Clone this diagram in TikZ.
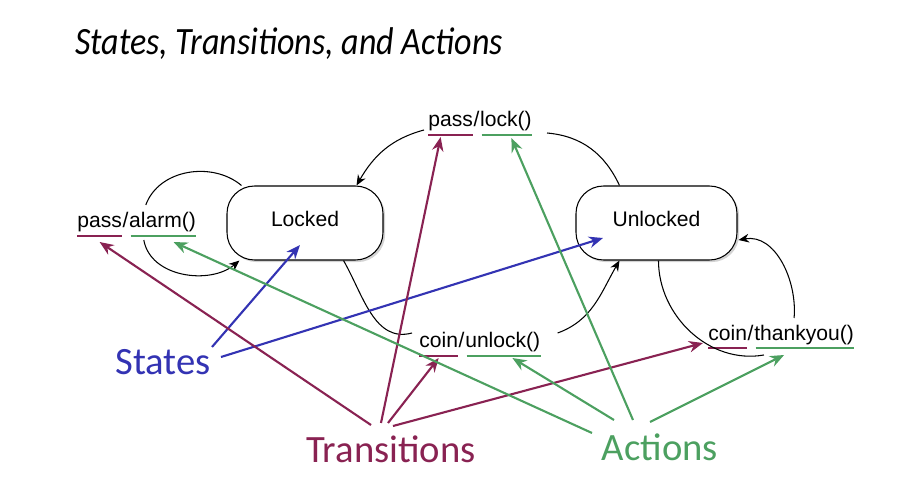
\documentclass[tikz,border=0pt]{standalone}
\usepackage{fontspec}
\setmainfont{Liberation Sans}
\newfontfamily\gillfont{Carlito}
\usetikzlibrary{arrows.meta,positioning,shadows}

\definecolor{stateblue}{RGB}{51,51,179}
\definecolor{transred}{RGB}{137,34,82}
\definecolor{actgreen}{RGB}{76,160,96}

\begin{document}
\begin{tikzpicture}[
  x=0.02cm, y=-0.02cm,
  font=\fontsize{12}{14}\selectfont,
  state/.style={draw, line width=0.6pt, rounded corners=0.55cm, minimum height=1.48cm, fill=white, text height=0.75em, text depth=0.35em, drop shadow={shadow xshift=1.2pt, shadow yshift=-1.2pt, opacity=0.35}},
  lbl/.style={inner sep=0pt, text height=0.75em, text depth=0.3em},
  trigline/.style={draw=transred, line width=1.1pt},
  actline/.style={draw=actgreen, line width=1.1pt},
  big/.style={inner sep=0pt, font=\gillfont\fontsize{22}{26}\selectfont},
  trans/.style={line width=0.6pt},
  transarrow/.style={trans, -{Stealth[length=6pt,width=5pt]}},
  pointer/.style={line width=1.2pt, -{Stealth[length=8pt,width=6.5pt]}}
]
  \useasboundingbox (0,0) rectangle (921,500);

  \node[anchor=base west, inner sep=0pt, font=\gillfont\itshape\fontsize{22}{26}\selectfont] (title) at (75,55) {\scalebox{0.88}[1]{States, Transitions, and Actions}};

  % states
  \node[state, minimum width=3.12cm] (locked) at (305,223) {Locked};
  \node[state, minimum width=3.22cm] (unlocked) at (656.5,223) {Unlocked};

  % transition labels: trigger / action
  \node[lbl, anchor=base west] (alarmT) at (77,228) {pass};
  \node[lbl, base right=0pt of alarmT] (alarmS) {/};
  \node[lbl, base right=0pt of alarmS] (alarmA) {alarm()};

  \node[lbl, anchor=base west] (lockT) at (428,127) {pass};
  \node[lbl, base right=0pt of lockT] (lockS) {/};
  \node[lbl, base right=0pt of lockS] (lockA) {lock()};

  \node[lbl, anchor=base west] (unlockT) at (419,348) {coin};
  \node[lbl, base right=0pt of unlockT] (unlockS) {/};
  \node[lbl, base right=0pt of unlockS] (unlockA) {unlock()};

  \node[lbl, anchor=base west] (tyT) at (708,340) {coin};
  \node[lbl, base right=0pt of tyT] (tyS) {/};
  \node[lbl, base right=0pt of tyS] (tyA) {thankyou()};

  \foreach \n in {alarm,lock,unlock,ty}{
    \draw[trigline] ([yshift=-4.6pt]\n T.base west) -- ([yshift=-4.6pt]\n T.base east);
    \draw[actline] ([xshift=1pt,yshift=-4.6pt]\n A.base west) -- ([yshift=-4.6pt]\n A.base east);
  }

  % transitions
  \draw[trans] ([shift={(15,0)}]locked.north west) to[out=140, in=70] ([shift={(17,-23)}]alarmA.base west);
  \draw[transarrow] ([shift={(15,12)}]alarmA.base west) to[out=-80, in=-140] ([shift={(13,0)}]locked.south west);

  \draw[trans] ([shift={(15,6)}]lockA.base east) to[out=-5, in=115] ([shift={(44,0)}]unlocked.north west);
  \draw[transarrow] ([shift={(-4,3)}]lockT.base west) to[out=195, in=60] ([shift={(-27,0)}]locked.north east);

  \draw[trans] ([shift={(-40,0)}]locked.south east) to[out=-60, in=195] ([shift={(-7,-15)}]unlockT.base west);
  \draw[transarrow] ([shift={(17,-15)}]unlockA.base east) to[out=20, in=-120] ([shift={(44,0)}]unlocked.south west);

  \draw[trans] ([shift={(83,0)}]unlocked.south west) to[out=-90, in=190] ([shift={(10,15)}]tyA.base west);
  \draw[transarrow] ([shift={(-10,-22)}]tyA.base) to[out=85, in=10] ([shift={(1,17)}]unlocked.east);

  % callouts
  \node[big, text=stateblue, anchor=base] (states) at (163,375) {States};
  \node[big, text=transred, anchor=base] (transitions) at (391,462) {Transitions};
  \node[big, text=actgreen, anchor=base] (actions) at (660,460) {Actions};

  \draw[pointer, stateblue] ([shift={(49,-28)}]states.base) -- ([shift={(-5,22)}]locked.center);
  \draw[pointer, stateblue] ([shift={(58,-18)}]states.base) -- ([shift={(-53.5,15)}]unlocked.center);

  \draw[pointer, transred] ([shift={(-20,-37)}]transitions.base) -- ([shift={(0,14)}]alarmT.base);
  \draw[pointer, transred] ([shift={(-10,-39)}]transitions.base) -- ([shift={(-10,10)}]lockT.base);
  \draw[pointer, transred] ([shift={(-3,-39)}]transitions.base) -- ([shift={(0,10)}]unlockT.base);
  \draw[pointer, transred] ([shift={(2,-36)}]transitions.base) -- ([shift={(-5,3)}]tyT.base west);

  \draw[pointer, actgreen] ([shift={(-68,-27)}]actions.base) -- ([shift={(11,14)}]alarmA.base);
  \draw[pointer, actgreen] ([shift={(-27,-40)}]actions.base) -- ([shift={(5.5,11)}]lockA.base);
  \draw[pointer, actgreen] ([shift={(-46,-40)}]actions.base) -- ([shift={(9.6,10)}]unlockA.base);
  \draw[pointer, actgreen] ([shift={(-10,-38)}]actions.base) -- ([shift={(-20,15)}]tyA.base);
\end{tikzpicture}
\end{document}
